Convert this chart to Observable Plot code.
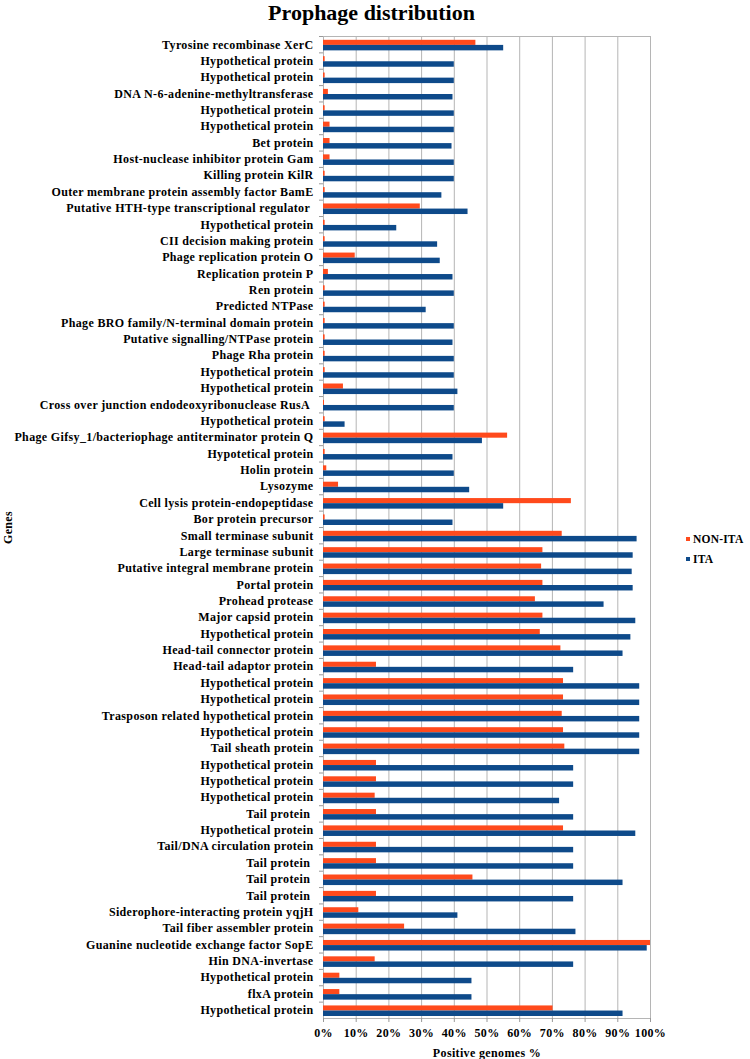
<!DOCTYPE html>
<html>
<head>
<meta charset="utf-8">
<script src="https://cdn.jsdelivr.net/npm/d3@7"></script>
<script src="https://cdn.jsdelivr.net/npm/@observablehq/plot@0.6"></script>
<style>
  html, body { margin: 0; padding: 0; background: #fff; overflow: hidden; }
  #wrap { position: relative; width: 750px; height: 1059px; overflow: hidden; font-family: "Liberation Serif", "Times New Roman", serif; }
  #chart { position: absolute; top: 0; left: 0; width: 750px; height: 1059px; }
  #chart svg { display: block; max-width: none !important; }
  #title { position: absolute; top: 0px; left: 0; width: 743px; text-align: center; font-weight: bold; font-size: 22px; line-height: 25px; color: #000; z-index: 2; }
  .leg { position: absolute; left: 686px; font-weight: bold; font-size: 11.5px; letter-spacing: 0.2px; color: #000; display: flex; align-items: center; z-index: 2; }
  .leg span.sw { display: inline-block; width: 4px; height: 4px; margin-right: 3px; }
  svg text { letter-spacing: 0.35px; }
</style>
</head>
<body>
<div id="wrap">
  <div id="chart"></div>
  <div id="title">Prophage distribution</div>
  <div class="leg" style="top:533px"><span class="sw" style="background:#FF4A1C"></span>NON-ITA</div>
  <div class="leg" style="top:553px"><span class="sw" style="background:#0E4A8A"></span>ITA</div>
</div>
<script>
const genes = [
  "Tyrosine recombinase XerC",
  "Hypothetical protein",
  "Hypothetical protein",
  "DNA N-6-adenine-methyltransferase",
  "Hypothetical protein",
  "Hypothetical protein",
  "Bet protein",
  "Host-nuclease inhibitor protein Gam",
  "Killing protein KilR",
  "Outer membrane protein assembly factor BamE",
  "Putative HTH-type transcriptional regulator\u00a0",
  "Hypothetical protein",
  "CII decision making protein",
  "Phage replication protein O",
  "Replication protein P",
  "Ren protein",
  "Predicted NTPase",
  "Phage BRO family/N-terminal domain protein",
  "Putative signalling/NTPase protein",
  "Phage Rha protein",
  "Hypothetical protein",
  "Hypothetical protein",
  "Cross over junction endodeoxyribonuclease RusA\u00a0",
  "Hypothetical protein",
  "Phage Gifsy_1/bacteriophage antiterminator protein Q",
  "Hypotetical protein",
  "Holin protein",
  "Lysozyme",
  "Cell lysis protein-endopeptidase",
  "Bor protein precursor",
  "Small terminase subunit",
  "Large terminase subunit",
  "Putative integral membrane protein",
  "Portal protein",
  "Prohead protease",
  "Major capsid protein",
  "Hypothetical protein",
  "Head-tail connector protein",
  "Head-tail adaptor protein",
  "Hypothetical protein",
  "Hypothetical protein",
  "Trasposon related hypothetical protein",
  "Hypothetical protein",
  "Tail sheath protein",
  "Hypothetical protein",
  "Hypothetical protein",
  "Hypothetical protein",
  "Tail protein\u00a0",
  "Hypothetical protein",
  "Tail/DNA circulation protein",
  "Tail protein\u00a0",
  "Tail protein\u00a0",
  "Tail protein\u00a0",
  "Siderophore-interacting protein yqjH",
  "Tail fiber assembler protein",
  "Guanine nucleotide exchange factor SopE",
  "Hin DNA-invertase",
  "Hypothetical protein",
  "flxA protein",
  "Hypothetical protein"
];

const nonIta = [
  46.6, 0.5, 0.5, 1.5, 0.5, 2.0, 2.0, 2.0, 0.5, 0.5,
  29.6, 0.5, 0.5, 9.7, 1.5, 0.5, 0.5, 0.5, 0.5, 0.5,
  0.5, 6.1, 0.3, 0.5, 56.3, 0.5, 1.0, 4.6, 75.8, 0.5,
  73.0, 67.1, 66.7, 67.1, 64.8, 67.1, 66.3, 72.6, 16.2, 73.4,
  73.4, 73.0, 73.4, 73.8, 16.2, 16.2, 15.8, 16.2, 73.4, 16.2,
  16.2, 45.7, 16.2, 10.8, 24.8, 100, 15.8, 5.0, 5.0, 70.2
];

const ita = [
  55.1, 40, 40, 39.6, 40, 40, 39.3, 40, 40, 36.2,
  44.2, 22.4, 34.9, 35.7, 39.6, 40, 31.4, 40, 39.6, 40,
  40, 41.1, 40, 6.6, 48.6, 39.6, 40, 44.7, 55.1, 39.6,
  95.9, 94.7, 94.4, 94.7, 85.8, 95.5, 94.0, 91.6, 76.5, 96.7,
  96.7, 96.7, 96.7, 96.7, 76.5, 76.5, 72.2, 76.5, 95.5, 76.5,
  76.5, 91.6, 76.5, 41.1, 77.2, 99.0, 76.5, 45.4, 45.4, 91.6
];

const xTicks = [0, 10, 20, 30, 40, 50, 60, 70, 80, 90, 100];

const ORANGE = "#FF4A1C";
const BLUE = "#0E4A8A";

const idx = genes.map((_, i) => i);
const rowsNon = idx.map(i => ({i, v: nonIta[i]}));
const rowsIta = idx.map(i => ({i, v: ita[i]}));

const plotTop = 36, plotBottom = 1018;
const band = (plotBottom - plotTop) / genes.length;

const chart = Plot.plot({
  width: 750,
  height: 1059,
  marginTop: plotTop,
  marginBottom: 1059 - plotBottom,
  marginLeft: 323,
  marginRight: 100,
  style: {fontFamily: "'Liberation Serif', 'Times New Roman', serif", fontWeight: "bold", fontSize: "12px", color: "#000", background: "#fff"},
  x: {domain: [0, 100], ticks: xTicks, tickFormat: d => d + "%"},
  y: {domain: idx, padding: 0, round: false},
  marks: [
    Plot.gridX(xTicks, {stroke: "#b5b5b5", strokeOpacity: 1, strokeWidth: 1}),
    Plot.frame({stroke: "#b5b5b5"}),
    Plot.barX(rowsNon, {x: "v", y: "i", fill: ORANGE, insetTop: 3.8, insetBottom: band - 8.9}),
    Plot.barX(rowsIta, {x: "v", y: "i", fill: BLUE, insetTop: 8.9, insetBottom: 2.0}),
    Plot.axisY({tickSize: 4, stroke: "#999", tickFormat: () => "", dy: -band / 2, label: null}),
    Plot.axisY({tickSize: 0, tickPadding: 10, tickFormat: i => genes[i], label: "Genes", labelAnchor: "center", labelArrow: "none", fontSize: 12}),
    Plot.axisX({ticks: xTicks, tickSize: 4, stroke: "#999", tickFormat: d => d + "%", tickPadding: 6, label: "Positive genomes %", labelAnchor: "center", labelArrow: "none", fontSize: 12})
  ]
});

document.getElementById("chart").appendChild(chart);
</script>
</body>
</html>
